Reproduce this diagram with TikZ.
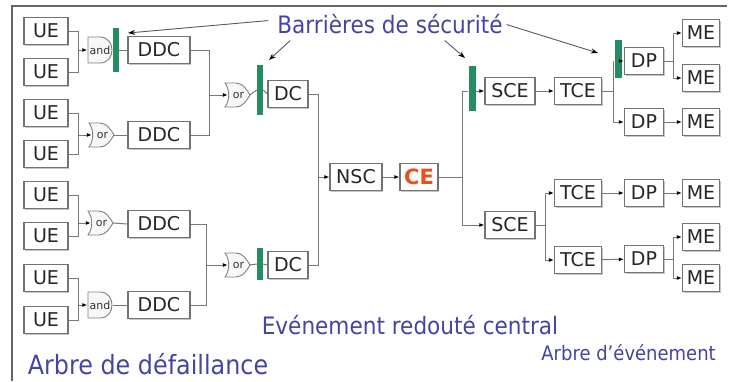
\documentclass[tikz,border=0pt]{standalone}
\usepackage{fontspec}
\setmainfont{DejaVu Sans}
\newfontfamily\condfont{DejaVu Sans}[FakeStretch=0.9]
\usetikzlibrary{arrows.meta,shadows}
\definecolor{barriergreen}{RGB}{38,140,100}
\definecolor{labelblue}{RGB}{68,68,165}
\definecolor{ceorange}{RGB}{232,80,30}
\definecolor{wiregray}{RGB}{120,120,120}
\begin{document}
\begin{tikzpicture}[x=1pt,y=-1pt,
  box/.style={draw=black!55,line width=1.2pt,fill=white,inner sep=0pt,minimum height=27pt,text=black!85,font=\fontsize{19}{20}\selectfont,drop shadow={shadow xshift=1.2pt,shadow yshift=-1.2pt,fill=black!45}},
  gate/.style={inner sep=0pt,minimum width=25pt,minimum height=26pt,text=black!80,font=\fontsize{11}{12}\selectfont},
  gateline/.style={draw=black!50,line width=0.9pt,fill=black!3},
  barrier/.style={fill=barriergreen,inner sep=0pt,minimum width=6pt},
  wire/.style={draw=wiregray,line width=1pt},
  pointer/.style={draw=black!65,line width=0.9pt,-{Stealth[length=7pt,width=5pt,color=black]}},
  titletext/.style={text=labelblue,inner sep=0pt,anchor=base,font=\condfont\fontsize{24}{26}\selectfont},
  >={Latex[length=5pt,width=4pt,color=black]},
  andshape/.pic={\draw[gateline] (-12,-13) -- (0,-13) .. controls (16,-13) and (16,13) .. (0,13) -- (-12,13) -- cycle;},
  orshape/.pic={\draw[gateline] (-12,-12) -- (-1,-12) .. controls (6,-12) and (10,-5) .. (13,0) .. controls (10,5) and (6,12) .. (-1,12) -- (-12,12) .. controls (-7,5) and (-7,-5) .. cycle;}]
\useasboundingbox (0,0) rectangle (731,381);
\draw[draw=black!60,line width=1.3pt] (12,381) -- (12,6) -- (727,6);
\node[box,minimum width=44pt] (ue1) at (46,31) {UE};
\node[box,minimum width=44pt] (ue2) at (46,72) {UE};
\node[box,minimum width=44pt] (ue3) at (46,113) {UE};
\node[box,minimum width=44pt] (ue4) at (46,154) {UE};
\node[box,minimum width=44pt] (ue5) at (46,195) {UE};
\node[box,minimum width=44pt] (ue6) at (46,236) {UE};
\node[box,minimum width=44pt] (ue7) at (46,278) {UE};
\node[box,minimum width=44pt] (ue8) at (46,320) {UE};
\pic at (100,50) {andshape};
\node[gate] (and1) at (100,50) {and};
\pic at (101,135) {orshape};
\node[gate] (or1) at (101,135) {\hspace{3pt}or};
\pic at (100,223) {orshape};
\node[gate] (or2) at (100,223) {\hspace{3pt}or};
\pic at (100,305) {andshape};
\node[gate] (and2) at (100,305) {and};
\pic at (237,95) {orshape};
\node[gate] (or3) at (237,95) {\hspace{3pt}or};
\pic at (237,265) {orshape};
\node[gate] (or4) at (237,265) {\hspace{3pt}or};
\node[barrier,minimum height=44pt] (b1) at (116,50) {};
\node[barrier,minimum height=50pt] (b2) at (260,90) {};
\node[barrier,minimum height=32pt] (b5) at (260,264) {};
\node[barrier,minimum width=7pt,minimum height=45pt] (b3) at (472,88) {};
\node[barrier,minimum width=7pt,minimum height=38pt] (b4) at (618,59) {};
\node[box,minimum width=62pt] (ddc1) at (159,50) {DDC};
\node[box,minimum width=62pt] (ddc2) at (159,135) {DDC};
\node[box,minimum width=62pt] (ddc3) at (159,224) {DDC};
\node[box,minimum width=62pt] (ddc4) at (159,305) {DDC};
\node[box,minimum width=40pt] (dc1) at (288,94) {DC};
\node[box,minimum width=40pt] (dc2) at (288,265) {DC};
\node[box,minimum width=52pt] (nsc) at (356,177) {NSC};
\node[box,minimum width=38pt,text=ceorange,font=\bfseries\fontsize{21}{22}\selectfont] (ce) at (419,177) {CE};
\node[box,minimum width=50pt] (sce1) at (510,91) {SCE};
\node[box,minimum width=50pt] (sce2) at (510,225) {SCE};
\node[box,minimum width=47pt] (tce1) at (578,91) {TCE};
\node[box,minimum width=47pt] (tce2) at (578,193) {TCE};
\node[box,minimum width=47pt] (tce3) at (578,260) {TCE};
\node[box,minimum width=39pt] (dp1) at (644,61) {DP};
\node[box,minimum width=39pt] (dp2) at (644,122) {DP};
\node[box,minimum width=39pt] (dp3) at (644,193) {DP};
\node[box,minimum width=39pt] (dp4) at (644,259) {DP};
\node[box,minimum width=37pt] (me1) at (701,33) {ME};
\node[box,minimum width=37pt] (me2) at (701,78) {ME};
\node[box,minimum width=37pt] (me3) at (701,122) {ME};
\node[box,minimum width=37pt] (me4) at (701,193) {ME};
\node[box,minimum width=37pt] (me5) at (701,237) {ME};
\node[box,minimum width=37pt] (me6) at (701,278) {ME};
\draw[wire] (ue1.east) -- ++(10,0) coordinate (j1) |- (ue2.east);
\draw[wire,->] (j1 |- and1) -- (and1.west);
\draw[wire] (and1.east) -- (b1.west);
\draw[wire] (b1.east) -- (ddc1.west);
\draw[wire] (ue3.east) -- ++(10,0) coordinate (j2) |- (ue4.east);
\draw[wire,->,shorten >=-3.5pt] (j2 |- or1) -- (or1.west);
\draw[wire] (or1.east) -- (ddc2.west);
\draw[wire] (ue5.east) -- ++(10,0) coordinate (j3) |- (ue6.east);
\draw[wire,->,shorten >=-3.5pt] (j3 |- or2) -- (or2.west);
\draw[wire] (or2.east) -- (ddc3.west);
\draw[wire] (ue7.east) -- ++(10,0) coordinate (j4) |- (ue8.east);
\draw[wire,->] (j4 |- and2) -- (and2.west);
\draw[wire] (and2.east) -- (ddc4.west);
\draw[wire] (ddc1.east) -- ++(19,0) coordinate (j5) |- (ddc2.east);
\draw[wire,->,shorten >=-3.5pt] (j5 |- or3) -- (or3.west);
\draw[wire] (or3.east) -- (b2.west);
\draw[wire] (b2.east) -- (dc1.west);
\draw[wire] (ddc3.east) -- ++(16,0) coordinate (j6) |- (ddc4.east);
\draw[wire,->,shorten >=-3.5pt] (j6 |- or4) -- (or4.west);
\draw[wire] (or4.east) -- (b5.west);
\draw[wire] (b5.east) -- (dc2.west);
\draw[wire] (dc1.east) -- ++(10,0) coordinate (j7) |- (dc2.east);
\draw[wire,->] (j7 |- nsc) -- (nsc.west);
\draw[wire,->] (nsc) -- (ce);
\draw[wire] (ce.east) -- ++(24,0) coordinate (j8);
\draw[wire] (j8) |- (b3.west |- sce1);
\draw[wire,->] (b3.east |- sce1) -- (sce1.west);
\draw[wire,->] (j8) |- (sce2.west);
\draw[wire,->] (sce1) -- (tce1);
\draw[wire] (tce1.east) -- ++(11,0) coordinate (j9);
\draw[wire] (j9) |- (b4.west |- dp1);
\draw[wire,->] (b4.east |- dp1) -- (dp1.west);
\draw[wire,->] (j9) |- (dp2.west);
\draw[wire] (dp1.east) -- ++(9,0) coordinate (j10);
\draw[wire,->] (j10) |- (me1.west);
\draw[wire,->] (j10) |- (me2.west);
\draw[wire,->] (dp2) -- (me3);
\draw[wire] (sce2.east) -- ++(10,0) coordinate (j11);
\draw[wire,->] (j11) |- (tce2.west);
\draw[wire,->] (j11) |- (tce3.west);
\draw[wire,->] (tce2) -- (dp3);
\draw[wire,->] (dp3) -- (me4);
\draw[wire,->] (tce3) -- (dp4);
\draw[wire] (dp4.east) -- ++(9,0) coordinate (j12);
\draw[wire,->] (j12) |- (me5.west);
\draw[wire,->] (j12) |- (me6.west);
\node[titletext] (barr) at (390,33) {Barrières de sécurité};
\node[titletext] (evt) at (410,334) {Evénement redouté central};
\node[titletext,font=\condfont\fontsize{26.5}{28}\selectfont] (adf) at (148,374) {Arbre de défaillance};
\node[titletext,anchor=base east,font=\condfont\fontsize{20}{21}\selectfont] (ade) at (716,360) {Arbre d’événement};
\coordinate (t1) at (128,33);
\coordinate (t2) at (269,60);
\coordinate (t3) at (465,58);
\coordinate (t4) at (598,53);
\draw[pointer] ([shift={(-9,-3)}]barr.west) -- (t1);
\draw[pointer] ([shift={(13,7)}]barr.south west) -- (t2);
\draw[pointer] ([shift={(-58,7)}]barr.south east) -- (t3);
\draw[pointer] ([shift={(4,1)}]barr.east) -- (t4);
\end{tikzpicture}
\end{document}
